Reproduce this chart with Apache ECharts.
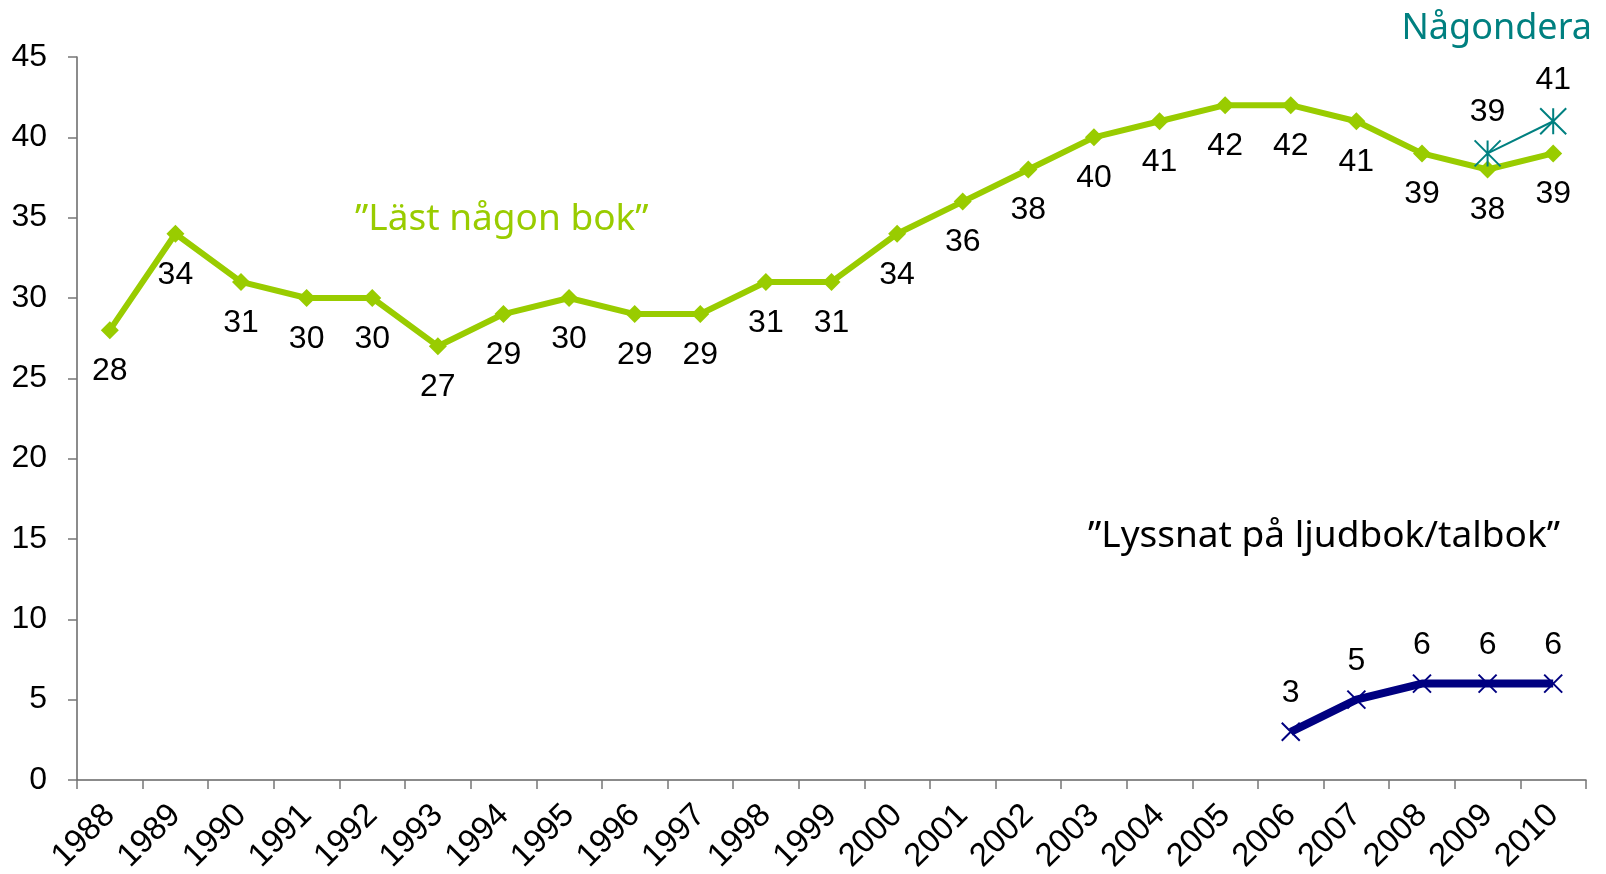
<!DOCTYPE html>
<html>
<head>
<meta charset="utf-8">
<script src="https://cdn.jsdelivr.net/npm/echarts@6/dist/echarts.min.js"></script>
<style>
html, body { margin: 0; padding: 0; background: #fff; }
#chart { width: 1606px; height: 874px; }
</style>
</head>
<body>
<div id="chart"></div>
<script>
var years = ['1988','1989','1990','1991','1992','1993','1994','1995','1996','1997','1998','1999',
             '2000','2001','2002','2003','2004','2005','2006','2007','2008','2009','2010'];
// "Läst någon bok"
var readBook = [28,34,31,30,30,27,29,30,29,29,31,31,34,36,38,40,41,42,42,41,39,38,39];
// "Lyssnat på ljudbok/talbok"
var audioBook = [null,null,null,null,null,null,null,null,null,null,null,null,
                 null,null,null,null,null,null,3,5,6,6,6];
// Någondera
var either = [null,null,null,null,null,null,null,null,null,null,null,null,
              null,null,null,null,null,null,null,null,null,39,41];
var yTicks = [0,5,10,15,20,25,30,35,40,45];

var green = '#99cc00', navy = '#000080', teal = '#008080';
var crossSym = 'path://M0,0L10,10M10,0L0,10';
var starSym = 'path://M0,0L10,10M10,0L0,10M5,0L5,10';

var chart = echarts.init(document.getElementById('chart'));
var option = {
    animation: false,
    textStyle: { fontFamily: 'Liberation Sans, Arial, sans-serif' },
    grid: { left: 77, right: 20, top: 57, bottom: 94, containLabel: false, outerBoundsMode: 'none' },
    xAxis: {
        type: 'category',
        data: years,
        boundaryGap: true,
        axisLine: { lineStyle: { color: '#666', width: 1.5 } },
        axisTick: { show: true, length: 9, lineStyle: { color: '#777', width: 1.5 } },
        axisLabel: { rotate: 45, fontSize: 33, color: '#000', margin: 30, interval: 0 },
        splitLine: { show: false }
    },
    yAxis: {
        type: 'value',
        min: yTicks[0],
        max: yTicks[yTicks.length - 1],
        interval: 5,
        axisLine: { show: true, lineStyle: { color: '#666', width: 1.5 } },
        axisTick: { show: true, length: 9, lineStyle: { color: '#777', width: 1.5 } },
        axisLabel: { fontSize: 32, color: '#000', margin: 30 },
        splitLine: { show: false }
    },
    graphic: [
        { type: 'text', left: 355, top: 201, style: { text: '\u201dLäst någon bok\u201d', fill: green, font: '37px "Noto Sans", sans-serif' } },
        { type: 'text', left: 1088, top: 518, style: { text: '\u201dLyssnat på ljudbok/talbok\u201d', fill: '#000', font: '37px "Noto Sans", sans-serif' } },
        { type: 'text', right: 14, top: 11, style: { text: 'Någondera', fill: teal, font: '36px "Noto Sans", sans-serif' } }
    ],
    series: [
        {
            name: 'Läst någon bok',
            type: 'line',
            data: readBook,
            symbol: 'diamond',
            symbolSize: 18,
            lineStyle: { color: green, width: 6 },
            itemStyle: { color: green },
            label: { show: true, position: 'bottom', distance: 16, fontSize: 32, color: '#000' }
        },
        {
            name: 'Lyssnat på ljudbok/talbok',
            type: 'line',
            data: audioBook,
            symbol: crossSym,
            symbolSize: 18,
            lineStyle: { color: navy, width: 8 },
            itemStyle: { color: 'none', borderColor: navy, borderWidth: 2 },
            label: { show: true, position: 'top', distance: 11, fontSize: 32, color: '#000' }
        },
        {
            name: 'Någondera',
            type: 'line',
            data: either,
            symbol: starSym,
            symbolSize: 26,
            lineStyle: { color: teal, width: 2 },
            itemStyle: { color: 'none', borderColor: teal, borderWidth: 2 },
            label: { show: true, position: 'top', distance: 10, fontSize: 32, color: '#000' }
        }
    ]
};
chart.setOption(option);
</script>
</body>
</html>
